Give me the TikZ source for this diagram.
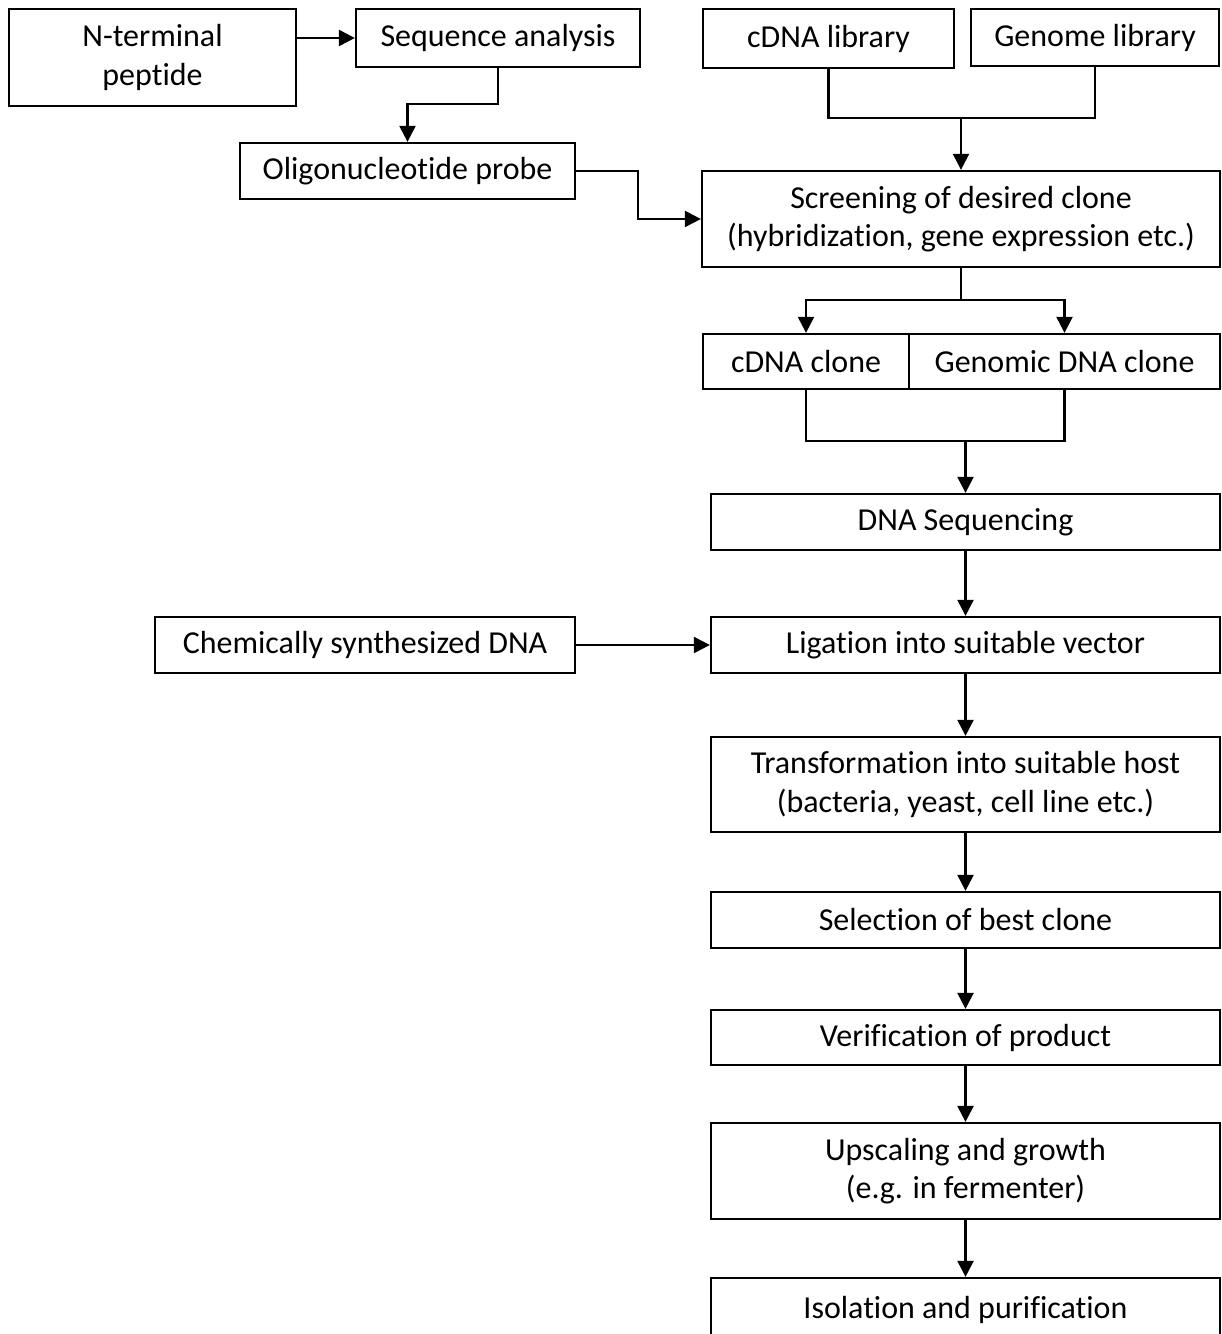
\documentclass[tikz,border=0pt]{standalone}
\usepackage{fontspec}
\setmainfont{Carlito}[Ligatures={NoCommon}]
\usetikzlibrary{arrows.meta, positioning}

\begin{document}
\begin{tikzpicture}[
  x=0.02cm, y=-0.02cm,
  font=\fontsize{18.2}{22}\selectfont,
  line width=1.3pt,
  box/.style={draw, rectangle, inner sep=0pt, align=center},
  arr/.style={-{Triangle[length=0.32cm, width=0.32cm]}}
]
  \useasboundingbox (0,0) rectangle (1221,1334);

  % Probe branch
  \node[box, minimum width=287*0.02cm, minimum height=97*0.02cm] (npep) at (152.5,57.5) {N-terminal\\peptide};
  \node[box, minimum width=284*0.02cm, minimum height=58*0.02cm] (seq) at (498,38) {Sequence analysis};
  \node[box, minimum width=335*0.02cm, minimum height=56*0.02cm] (oligo) at (407.5,171) {Oligonucleotide probe};
  \draw[arr] (npep.east |- seq.west) -- (seq.west);
  \coordinate (sbend) at (498,104);
  \draw[arr] (seq.south) -- (sbend) -| (oligo.north);

  % Libraries and screening
  \node[box, minimum width=251*0.02cm, minimum height=59*0.02cm] (clib) at (828.5,38.5) {cDNA library};
  \node[box, minimum width=248*0.02cm, minimum height=57*0.02cm] (glib) at (1095,37.5) {Genome library};
  \node[box, minimum width=518*0.02cm, minimum height=96*0.02cm] (screen) at (961,219) {Screening of desired clone\\(hybridization, gene expression etc.)};
  \coordinate (libjoin) at (961,118);
  \draw (clib.south) |- (libjoin) -| (glib.south);
  \draw[arr] (libjoin) -- (screen.north);
  \coordinate (obend) at (638,171);
  \draw[arr] (oligo.east) -- (obend) |- (screen.west);

  % Clones
  \node[box, minimum width=206*0.02cm, minimum height=55*0.02cm] (cclone) at (806,361.5) {cDNA clone};
  \node[box, minimum width=311*0.02cm, minimum height=55*0.02cm] (gclone) at (1064.5,361.5) {Genomic DNA clone};
  \coordinate (split) at (961,300);
  \draw (screen.south) -- (split);
  \draw[arr] (split) -| (cclone.north);
  \draw[arr] (split) -| (gclone.north);

  % Main line
  \node[box, minimum width=509*0.02cm, minimum height=56*0.02cm] (dnaseq) at (965.5,522) {DNA Sequencing};
  \node[box, minimum width=420*0.02cm, minimum height=56*0.02cm] (chem) at (365,645) {Chemically synthesized DNA};
  \node[box, minimum width=509*0.02cm, minimum height=56*0.02cm] (lig) at (965.5,645) {Ligation into suitable vector};
  \node[box, minimum width=509*0.02cm, minimum height=95*0.02cm] (trans) at (965.5,784.5) {Transformation into suitable host\\(bacteria, yeast, cell line etc.)};
  \node[box, minimum width=509*0.02cm, minimum height=56*0.02cm] (sel) at (965.5,920) {Selection of best clone};
  \node[box, minimum width=509*0.02cm, minimum height=55*0.02cm] (ver) at (965.5,1037.5) {Verification of product};
  \node[box, minimum width=509*0.02cm, minimum height=96*0.02cm] (up) at (965.5,1171) {Upscaling and growth\\(e.g. in fermenter)};
  \node[box, minimum width=509*0.02cm, minimum height=64*0.02cm] (iso) at (965.5,1310) {Isolation and purification};

  \coordinate (clonejoin) at (965.5,441);
  \draw (cclone.south) |- (clonejoin) -| (gclone.south);
  \draw[arr] (clonejoin) -- (dnaseq.north);
  \draw[arr] (dnaseq) -- (lig);
  \draw[arr] (chem) -- (lig);
  \draw[arr] (lig) -- (trans);
  \draw[arr] (trans) -- (sel);
  \draw[arr] (sel) -- (ver);
  \draw[arr] (ver) -- (up);
  \draw[arr] (up) -- (iso);
\end{tikzpicture}
\end{document}
